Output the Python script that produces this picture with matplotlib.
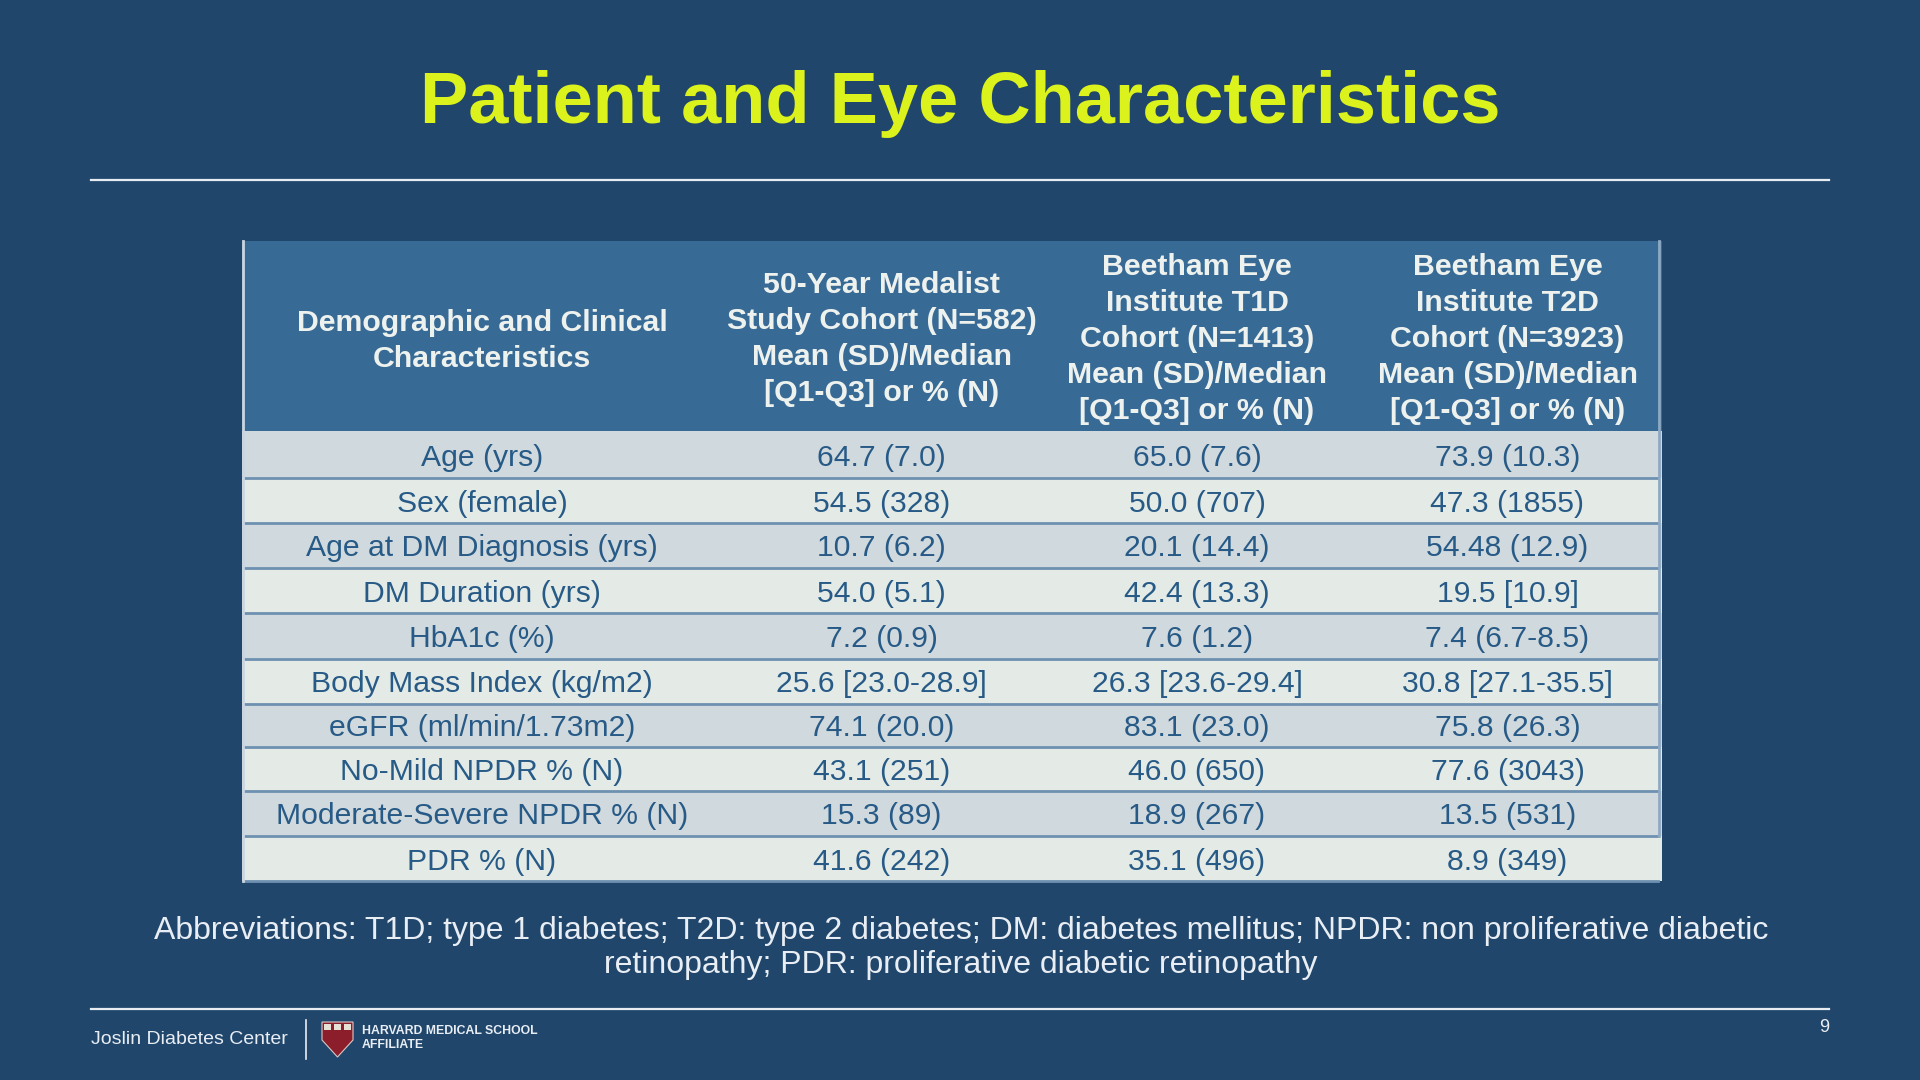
#!/usr/bin/env python3
import matplotlib
matplotlib.use("Agg")
import matplotlib.pyplot as plt
from matplotlib.patches import Rectangle, Polygon

# -------------------------------
# Table content
# -------------------------------
title = "Patient and Eye Characteristics"

col_headers = [
    "Demographic and Clinical\nCharacteristics",
    "50-Year Medalist\nStudy Cohort (N=582)\nMean (SD)/Median\n[Q1-Q3] or % (N)",
    "Beetham Eye\nInstitute T1D\nCohort (N=1413)\nMean (SD)/Median\n[Q1-Q3] or % (N)",
    "Beetham Eye\nInstitute T2D\nCohort (N=3923)\nMean (SD)/Median\n[Q1-Q3] or % (N)",
]

row_labels = [
    "Age (yrs)", "Sex (female)", "Age at DM Diagnosis (yrs)", "DM Duration (yrs)",
    "HbA1c (%)", "Body Mass Index (kg/m2)", "eGFR (ml/min/1.73m2)",
    "No-Mild NPDR % (N)", "Moderate-Severe NPDR % (N)", "PDR % (N)",
]

medalist = [
    "64.7 (7.0)", "54.5 (328)", "10.7 (6.2)", "54.0 (5.1)", "7.2 (0.9)",
    "25.6 [23.0-28.9]", "74.1 (20.0)", "43.1 (251)", "15.3 (89)", "41.6 (242)",
]
beetham_t1d = [
    "65.0 (7.6)", "50.0 (707)", "20.1 (14.4)", "42.4 (13.3)", "7.6 (1.2)",
    "26.3 [23.6-29.4]", "83.1 (23.0)", "46.0 (650)", "18.9 (267)", "35.1 (496)",
]
beetham_t2d = [
    "73.9 (10.3)", "47.3 (1855)", "54.48 (12.9)", "19.5 [10.9]", "7.4 (6.7-8.5)",
    "30.8 [27.1-35.5]", "75.8 (26.3)", "77.6 (3043)", "13.5 (531)", "8.9 (349)",
]

footnote = ("Abbreviations: T1D; type 1 diabetes; T2D: type 2 diabetes; DM: diabetes mellitus; "
            "NPDR: non proliferative diabetic\nretinopathy; PDR: proliferative diabetic retinopathy")

# -------------------------------
# Style / layout (pixel coords)
# -------------------------------
BG = "#21466b"
HEAD = "#386a96"
ROW_DARK = "#d0d9dd"
ROW_LIGHT = "#e4ebe6"
ROW_TXT = "#275a86"
SEP = "#6f91b1"
TITLE_C = "#dcf21c"
LIGHT = "#e8eef4"

col_edges = [242, 722, 1041, 1353, 1662]
head_top, head_bot = 241, 431
row_edges = [431, 478, 523, 568, 613, 659, 704, 747, 791, 836, 881]


def main():
    plt.rcParams["font.family"] = ["Liberation Sans", "DejaVu Sans"]
    fig = plt.figure(figsize=(19.2, 10.8), dpi=100, facecolor=BG)
    ax = fig.add_axes([0, 0, 1, 1])
    ax.set_xlim(0, 1920)
    ax.set_ylim(1080, 0)
    ax.axis("off")
    ax.set_facecolor(BG)

    # title + rules
    ax.text(960, 104, title, ha="center", va="center", fontsize=52,
            fontweight="bold", color=TITLE_C)
    ax.plot([91, 1829], [180, 180], color="#e6ecf2", lw=1.6)
    ax.plot([91, 1829], [1009, 1009], color="#e6ecf2", lw=1.6)

    # header block
    x0, x1 = col_edges[0], col_edges[-1]
    ax.add_patch(Rectangle((x0, head_top), x1 - x0, head_bot - head_top,
                           facecolor=HEAD, edgecolor="none"))
    for j, h in enumerate(col_headers):
        cx = (col_edges[j] + col_edges[j + 1]) / 2
        dy = 5 if j == 0 else 3
        ax.text(cx, (head_top + head_bot) / 2 + dy, h, ha="center", va="center",
                fontsize=21.8, fontweight="bold", color="#eef2ee",
                linespacing=1.36)

    # body rows
    columns = [row_labels, medalist, beetham_t1d, beetham_t2d]
    for i in range(len(row_labels)):
        y0, y1 = row_edges[i], row_edges[i + 1]
        fill = ROW_DARK if i % 2 == 0 else ROW_LIGHT
        ax.add_patch(Rectangle((x0, y0), x1 - x0, y1 - y0,
                               facecolor=fill, edgecolor="none"))
        for j, col in enumerate(columns):
            cx = (col_edges[j] + col_edges[j + 1]) / 2
            ax.text(cx, (y0 + y1) / 2 + 3, col[i], ha="center", va="center",
                    fontsize=21.7, color=ROW_TXT)
    for y in row_edges[1:]:
        ax.plot([x0 + 2, x1 - 4], [y, y], color=SEP, lw=2)
    ax.plot([x0 + 1, x0 + 1], [head_top, row_edges[-1]], color="#c9d6e2", lw=2)
    ax.plot([x1 - 3, x1 - 3], [head_top, row_edges[-2]], color="#8fa9c3", lw=2)

    # footnote
    ax.text(961, 948, footnote, ha="center", va="center", fontsize=23,
            color=LIGHT, linespacing=1.2)

    # footer
    ax.text(91, 1039, "Joslin Diabetes Center", ha="left", va="center",
            fontsize=14, color=LIGHT)
    ax.plot([306, 306], [1020, 1059], color=LIGHT, lw=1.2)
    shield = Polygon([(322, 1022), (353, 1022), (353, 1040), (337.5, 1057), (322, 1040)],
                     closed=True, facecolor="#8c1d2b", edgecolor="#d8c8c8", lw=0.8)
    ax.add_patch(shield)
    for k in range(3):
        ax.add_patch(Rectangle((324 + k * 10, 1024), 7, 6, facecolor="#e6e0d6",
                               edgecolor="none"))
    ax.text(362, 1031, "HARVARD MEDICAL SCHOOL", ha="left", va="center",
            fontsize=8.8, fontweight="bold", color=LIGHT)
    ax.text(362, 1045, "AFFILIATE", ha="left", va="center",
            fontsize=8.8, fontweight="bold", color=LIGHT)
    ax.text(1829, 1027, "9", ha="right", va="center", fontsize=13, color=LIGHT)

    fig.savefig("out.png", dpi=100, facecolor=BG)
    plt.close(fig)


if __name__ == "__main__":
    main()
